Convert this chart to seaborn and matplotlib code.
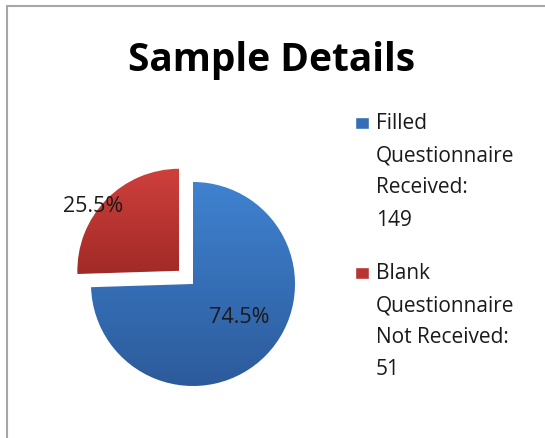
import numpy as np
import matplotlib
matplotlib.use('Agg')
import matplotlib.pyplot as plt
import seaborn as sns
from matplotlib.colors import LinearSegmentedColormap
from matplotlib.lines import Line2D
from matplotlib.patches import Rectangle
from matplotlib.legend_handler import HandlerPatch

# data
categories = ['Filled\nQuestionnaire\nReceived:\n149',
              'Blank\nQuestionnaire\nNot Received:\n51']
counts = [149, 51]
explode = [0, 0.19]
label_dist = [0.55, 1.06]    # where Excel put each percentage label
label_turn = [9, 7]          # degrees off the slice middle
top_colors = ['#3f82d0', '#cf403c']
bottom_colors = ['#2c5b9b', '#a12a27']

sns.set_theme(style='white')
plt.rcParams['font.family'] = ['Open Sans', 'DejaVu Sans']

W, H = 545, 439
fig = plt.figure(figsize=(W / 100, H / 100), dpi=100)
fig.patch.set_facecolor('white')

# pie axes: 260px square around the pie centre
cx, cy, half = 193, H - 285, 130
ax = fig.add_axes([(cx - half) / W, (cy - half) / H, 2 * half / W, 2 * half / H])

mid_colors = [sns.blend_palette([t, b], 3)[1] for t, b in zip(top_colors, bottom_colors)]
wedges, texts, autotexts = ax.pie(
    counts, explode=explode, colors=mid_colors, startangle=90,
    counterclock=False, radius=1.02, autopct='%.1f%%',
    textprops=dict(fontsize=15.5, color='#1a1a1a'))

# vertical gradient inside each slice, like the Excel fill
for w, top, bot in zip(wedges, top_colors, bottom_colors):
    cmap = LinearSegmentedColormap.from_list('g', [bot, top])
    bb = w.get_path().get_extents().transformed(w.get_patch_transform())
    grad = np.linspace(0, 1, 256).reshape(-1, 1)
    im = ax.imshow(grad, extent=(bb.x0, bb.x1, bb.y0, bb.y1), origin='lower',
                   cmap=cmap, aspect='auto', zorder=w.get_zorder() + 0.1)
    im.set_clip_path(w)

for w, t, d, turn in zip(wedges, autotexts, label_dist, label_turn):
    th = np.deg2rad((w.theta1 + w.theta2) / 2 + turn)
    x0, y0 = w.center
    t.set_position((x0 + d * w.r * np.cos(th), y0 + d * w.r * np.sin(th)))
    t.set_zorder(5)

ax.set_xlim(-1.3, 1.3)
ax.set_ylim(-1.3, 1.3)
ax.set_aspect('equal')
ax.axis('off')

fig.text(272 / W, 1 - 71 / H, 'Sample Details', ha='center', va='baseline',
         fontsize=28, fontweight='bold', color='black')


def square_top(legend, orig_handle, xdescent, ydescent, width, height, fontsize):
    # put the square beside the first line instead of the middle of the block
    shift = 35
    return Rectangle((-xdescent, -ydescent + shift), width, height)


leg = fig.legend(wedges, categories, loc='upper left',
                 bbox_to_anchor=(355 / W, 1 - 113 / H), frameon=False,
                 borderpad=0, borderaxespad=0, fontsize=15,
                 handlelength=0.65, handleheight=0.53, handletextpad=0.36,
                 labelspacing=1.55,
                 handler_map={w: HandlerPatch(patch_func=square_top) for w in wedges})
for t in leg.get_texts():
    t.set_linespacing(1.70)
    t.set_color('#1a1a1a')

# chart frame: only the left and top edges are visible
fig.add_artist(Line2D([7 / W, 7 / W], [0, 1 - 7 / H], color='#a6a6a6', lw=1.5,
                      transform=fig.transFigure))
fig.add_artist(Line2D([7 / W, 1], [1 - 7 / H, 1 - 7 / H], color='#a6a6a6', lw=1.5,
                      transform=fig.transFigure))

fig.savefig('out.png', dpi=100)
